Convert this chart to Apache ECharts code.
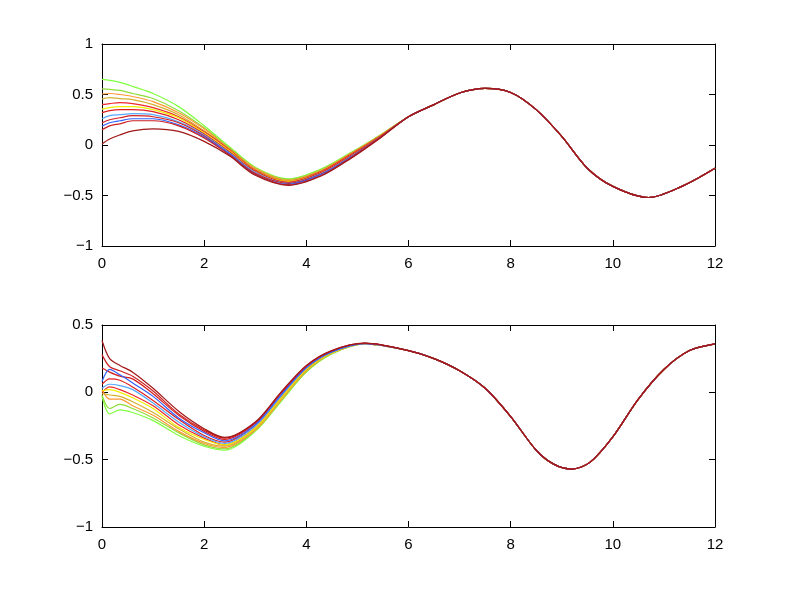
<!DOCTYPE html>
<html>
<head>
<meta charset="utf-8">
<script src="https://cdn.jsdelivr.net/npm/echarts@6/dist/echarts.min.js"></script>
<style>
  html, body { margin: 0; padding: 0; background: #fff; }
  #chart { width: 789px; height: 594px; }
</style>
</head>
<body>
<div id="chart"></div>
<script>
// x positions where the curves are sampled
const xFanTop = [0, 0.15, 0.35, 0.6, 1, 1.5, 2, 2.5, 3, 3.65, 4.3, 4.85, 5.45];
const xTailTop = [6, 6.5, 7, 7.5, 8, 8.5, 9, 9.5, 10, 10.7, 11.35, 12];
const xFanBottom = [0, 0.15, 0.35, 0.6, 1, 1.5, 2, 2.4, 3, 3.5, 4, 4.5, 5.15];
const xTailBottom = [6, 6.5, 7, 7.5, 8, 8.5, 8.85, 9.2, 9.55, 10, 10.5, 11, 11.5, 12];

// common part of every curve on the right
const tailTop = [0.28, 0.40, 0.515, 0.56, 0.52, 0.35, 0.085, -0.23, -0.41, -0.52, -0.41, -0.23];
const tailBottom = [0.31, 0.25, 0.16, 0.03, -0.18, -0.43, -0.535, -0.57, -0.52, -0.33, -0.05, 0.17, 0.31, 0.36];

const lineColors = ['#80ff40', '#8fdc3a', '#ff9933', '#d4b030', '#ee2a2a', '#f0f000',
                    '#e02020', '#55aaff', '#d42020', '#3060ff', '#cc2020', '#a01818'];

// top panel fan, one row per curve (same order as colours)
const fanTop = [
  [0.65, 0.64, 0.62, 0.58, 0.51, 0.38, 0.19, -0.02, -0.22, -0.335, -0.235, -0.08, 0.10],
  [0.555, 0.55, 0.54, 0.51, 0.46, 0.34, 0.17, -0.03, -0.23, -0.34, -0.24, -0.09, 0.10],
  [0.505, 0.51, 0.50, 0.48, 0.43, 0.32, 0.16, -0.04, -0.23, -0.35, -0.25, -0.09, 0.095],
  [0.455, 0.47, 0.46, 0.45, 0.40, 0.30, 0.14, -0.04, -0.24, -0.35, -0.25, -0.10, 0.09],
  [0.40, 0.41, 0.42, 0.41, 0.37, 0.28, 0.13, -0.05, -0.25, -0.36, -0.26, -0.10, 0.09],
  [0.355, 0.37, 0.38, 0.38, 0.35, 0.27, 0.12, -0.06, -0.26, -0.36, -0.27, -0.11, 0.085],
  [0.32, 0.34, 0.35, 0.35, 0.33, 0.25, 0.11, -0.07, -0.26, -0.37, -0.27, -0.11, 0.085],
  [0.26, 0.29, 0.30, 0.31, 0.30, 0.23, 0.10, -0.08, -0.27, -0.38, -0.28, -0.12, 0.08],
  [0.22, 0.25, 0.27, 0.29, 0.28, 0.22, 0.09, -0.09, -0.28, -0.38, -0.285, -0.125, 0.08],
  [0.185, 0.22, 0.24, 0.26, 0.26, 0.20, 0.08, -0.09, -0.29, -0.39, -0.29, -0.13, 0.075],
  [0.15, 0.19, 0.21, 0.24, 0.24, 0.19, 0.07, -0.10, -0.29, -0.395, -0.30, -0.135, 0.075],
  [0.01, 0.06, 0.10, 0.14, 0.16, 0.135, 0.036, -0.11, -0.30, -0.40, -0.305, -0.14, 0.07]
];

// bottom panel fan
const fanBottom = [
  [-0.03, -0.16, -0.13, -0.15, -0.21, -0.32, -0.40, -0.43, -0.29, -0.07, 0.15, 0.285, 0.36],
  [-0.02, -0.12, -0.09, -0.12, -0.19, -0.30, -0.39, -0.42, -0.28, -0.06, 0.155, 0.29, 0.36],
  [0.02, -0.05, -0.05, -0.10, -0.17, -0.29, -0.38, -0.41, -0.28, -0.06, 0.16, 0.29, 0.36],
  [-0.01, -0.02, -0.03, -0.07, -0.15, -0.27, -0.37, -0.40, -0.27, -0.05, 0.16, 0.29, 0.36],
  [0.0, 0.04, 0.02, -0.02, -0.10, -0.24, -0.34, -0.39, -0.26, -0.04, 0.17, 0.30, 0.36],
  [0.01, 0.02, 0.0, -0.04, -0.12, -0.26, -0.35, -0.39, -0.265, -0.045, 0.17, 0.295, 0.36],
  [0.06, 0.10, 0.09, 0.04, -0.06, -0.20, -0.32, -0.37, -0.245, -0.025, 0.18, 0.30, 0.363],
  [0.03, 0.06, 0.05, 0.02, -0.08, -0.22, -0.33, -0.38, -0.25, -0.03, 0.18, 0.30, 0.36],
  [0.18, 0.15, 0.12, 0.10, -0.01, -0.17, -0.29, -0.35, -0.23, -0.01, 0.19, 0.305, 0.364],
  [0.08, 0.17, 0.13, 0.07, -0.03, -0.19, -0.30, -0.36, -0.24, -0.02, 0.185, 0.30, 0.364],
  [0.28, 0.19, 0.16, 0.12, 0.01, -0.16, -0.28, -0.34, -0.226, -0.006, 0.195, 0.31, 0.365],
  [0.385, 0.25, 0.20, 0.15, 0.03, -0.14, -0.27, -0.335, -0.22, 0.0, 0.20, 0.31, 0.365]
];

const font = 'Liberation Sans, Arial, sans-serif';
const minus = v => String(v).replace('-', '\u2212');

function pairs(xs, ys) {
  return xs.map((x, i) => [x, ys[i]]);
}

function makeSeries(fan, xFan, tail, xTail, idx) {
  const xs = xFan.concat(xTail);
  return fan.map((row, i) => ({
    type: 'line',
    xAxisIndex: idx * 2,
    yAxisIndex: idx * 2,
    data: pairs(xs, row.concat(tail)),
    smooth: 0.3,
    showSymbol: false,
    silent: true,
    lineStyle: { color: lineColors[i], width: 1.2 }
  }));
}

const grids = [
  { left: 102, top: 44, width: 613, height: 202 },
  { left: 102, top: 325, width: 613, height: 202 }
];

const xAxes = [];
const yAxes = [];
grids.forEach((g, gi) => {
  const axisLine = { show: true, onZero: false, lineStyle: { color: '#000', width: 1 } };
  const tick = { show: true, inside: true, length: 6, lineStyle: { color: '#000' } };
  xAxes.push({
    type: 'value', gridIndex: gi, position: 'bottom', min: 0, max: 12, interval: 2,
    axisLine, axisTick: tick, splitLine: { show: false },
    axisLabel: { color: '#000', fontSize: 15, fontFamily: font, margin: 10 }
  });
  xAxes.push({
    type: 'value', gridIndex: gi, position: 'top', min: 0, max: 12, interval: 2,
    axisLine, axisTick: tick, splitLine: { show: false }, axisLabel: { show: false }
  });
  const yMax = gi === 0 ? 1 : 0.5;
  yAxes.push({
    type: 'value', gridIndex: gi, position: 'left', min: -1, max: yMax, interval: 0.5,
    axisLine, axisTick: tick, splitLine: { show: false },
    axisLabel: { color: '#000', fontSize: 15, fontFamily: font, margin: 9, formatter: minus }
  });
  yAxes.push({
    type: 'value', gridIndex: gi, position: 'right', min: -1, max: yMax, interval: 0.5,
    axisLine, axisTick: tick, splitLine: { show: false }, axisLabel: { show: false }
  });
});

const myChart = echarts.init(document.getElementById('chart'));
myChart.setOption({
  animation: false,
  backgroundColor: '#fff',
  grid: grids,
  xAxis: xAxes,
  yAxis: yAxes,
  series: makeSeries(fanTop, xFanTop, tailTop, xTailTop, 0)
    .concat(makeSeries(fanBottom, xFanBottom, tailBottom, xTailBottom, 1))
});
</script>
</body>
</html>
